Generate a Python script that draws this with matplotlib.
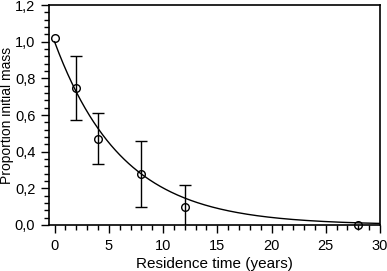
# coding: utf-8
import numpy as np
import matplotlib
matplotlib.use('Agg')
import matplotlib.pyplot as plt
from matplotlib.ticker import MultipleLocator, FuncFormatter

# data
time_years = [0, 2, 4, 8, 12, 28]
mass_prop = [1.02, 0.75, 0.47, 0.28, 0.10, 0.0]
mass_err = [0, 0.175, 0.14, 0.18, 0.12, 0]

# fitted exponential decay parameters
fit_a = 1.0
fit_k = 0.16

plt.rcParams['font.family'] = ['Liberation Sans', 'DejaVu Sans']

fig = plt.figure(figsize=(3.87, 2.71), dpi=100)
fig.subplots_adjust(left=0.127, right=0.982, top=0.981, bottom=0.170)
ax = fig.add_subplot(1, 1, 1)

t = np.linspace(0, 30, 300)
ax.plot(t, fit_a * np.exp(-fit_k * t), color='black', lw=1.0, zorder=2)

# error bars only where there is an error
err_x = [x for x, e in zip(time_years, mass_err) if e > 0]
err_y = [y for y, e in zip(mass_prop, mass_err) if e > 0]
err_v = [e for e in mass_err if e > 0]
ax.errorbar(err_x, err_y, yerr=err_v, fmt='none', ecolor='black',
            elinewidth=1.0, capsize=4.5, capthick=1.0, zorder=3)
ax.plot(time_years, mass_prop, 'o', mfc='none', mec='black', ms=5.5,
        mew=1.0, zorder=4, clip_on=False)

ax.set_xlim(-0.5, 30)
ax.set_ylim(0, 1.2)
ax.xaxis.set_major_locator(MultipleLocator(5))
ax.xaxis.set_minor_locator(MultipleLocator(1))
ax.yaxis.set_major_locator(MultipleLocator(0.2))
ax.yaxis.set_minor_locator(MultipleLocator(0.04))
ax.yaxis.set_major_formatter(FuncFormatter(lambda v, p: ('%.1f' % v).replace('.', ',')))

ax.tick_params(which='major', direction='out', length=6, width=1.0,
               labelsize=10.5, pad=4)
ax.tick_params(which='minor', direction='out', length=3.5, width=1.0)
for s in ax.spines.values():
    s.set_linewidth(1.2)

ax.set_xlabel('Residence time (years)', fontsize=11, labelpad=3)
ax.set_ylabel('Proportion initial mass', fontsize=10)
ax.yaxis.set_label_coords(-0.105, 0.5)

plt.savefig('out.png', dpi=100)
plt.close()
